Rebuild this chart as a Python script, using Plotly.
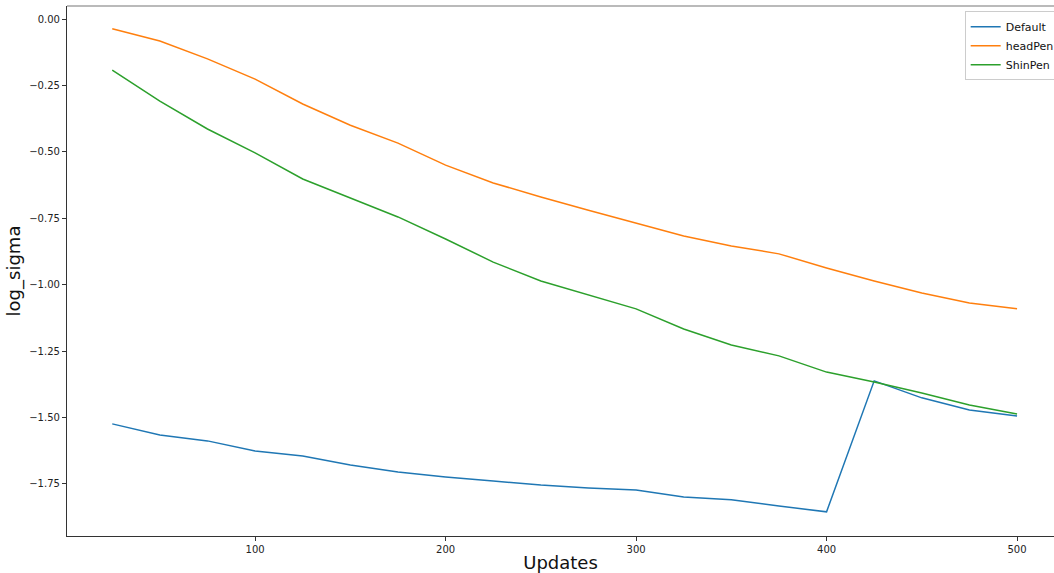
import plotly.graph_objects as go

updates = [25, 50, 75, 100, 125, 150, 175, 200, 225, 250, 275, 300, 325, 350, 375, 400, 425, 450, 475, 500]
default = [-1.524, -1.566, -1.588, -1.626, -1.645, -1.679, -1.705, -1.724, -1.739, -1.754,
           -1.765, -1.773, -1.799, -1.810, -1.833, -1.855, -1.362, -1.426, -1.472, -1.494]
headpen = [-0.037, -0.083, -0.150, -0.226, -0.320, -0.400, -0.467, -0.550, -0.617, -0.670,
           -0.720, -0.768, -0.817, -0.854, -0.884, -0.937, -0.986, -1.031, -1.069, -1.091]
shinpen = [-0.192, -0.309, -0.414, -0.504, -0.602, -0.674, -0.745, -0.828, -0.915, -0.986,
           -1.039, -1.091, -1.167, -1.227, -1.268, -1.329, -1.366, -1.408, -1.453, -1.487]
x_ticks = [100, 200, 300, 400, 500]
y_ticks = [0.0, -0.25, -0.5, -0.75, -1.0, -1.25, -1.5, -1.75]

series = [("Default", default, "#1f77b4"), ("headPen", headpen, "#ff7f0e"), ("ShinPen", shinpen, "#2ca02c")]

fig = go.Figure()
for name, vals, col in series:
    fig.add_trace(go.Scatter(x=updates, y=vals, mode="lines", name=name,
                             line=dict(color=col, width=1.5)))

font = "DejaVu Sans"
fig.update_layout(
    width=1054, height=573,
    margin=dict(l=67, r=0, t=6, b=37, autoexpand=False),
    paper_bgcolor="white", plot_bgcolor="white",
    font=dict(family=font, color="#222"),
    showlegend=True,
    legend=dict(x=0.9095, y=0.99, xanchor="left", yanchor="top",
                bgcolor="rgba(255,255,255,0.8)", bordercolor="#cccccc", borderwidth=1,
                font=dict(family=font, size=11, color="#111"), tracegroupgap=0,
                itemwidth=30),
    shapes=[dict(type="line", xref="paper", yref="paper", x0=0, x1=1, y0=1, y1=1,
                 line=dict(color="#777", width=1.2))],
)
fig.update_xaxes(
    range=[1.25, 519.4], tickvals=x_ticks, ticktext=[str(v) for v in x_ticks],
    showgrid=False, zeroline=False, showline=True, linecolor="#333", linewidth=1.2,
    mirror=False, ticks="outside", ticklen=4, tickcolor="#333",
    tickfont=dict(size=10, family=font, color="#222"),
    title=dict(text="Updates", font=dict(size=18, family=font, color="#111"), standoff=6),
)
fig.update_yaxes(
    range=[-1.946, 0.049], tickvals=y_ticks, ticktext=[f"{v:.2f}".replace("-", "\u2212") for v in y_ticks],
    showgrid=False, zeroline=False, showline=True, linecolor="#333", linewidth=1.2,
    mirror=False, ticks="outside", ticklen=4, tickcolor="#333",
    tickfont=dict(size=10, family=font, color="#222"),
    title=dict(text="log_sigma", font=dict(size=18, family=font, color="#111"), standoff=3),
)
fig.write_html("out.html")
